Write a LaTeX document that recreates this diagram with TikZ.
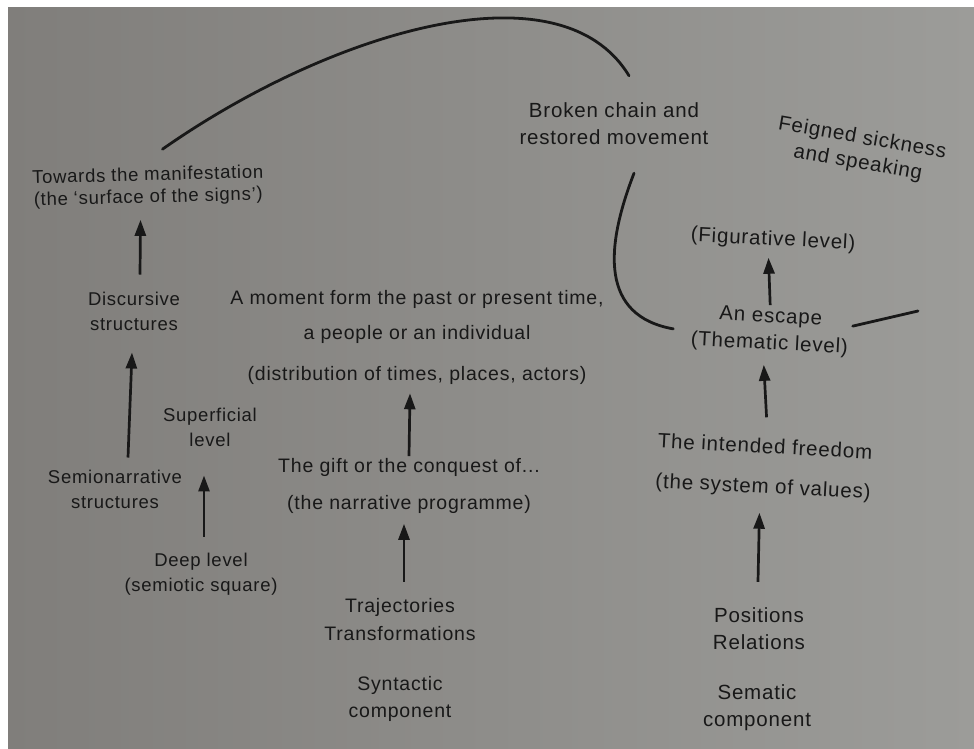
\documentclass[tikz,border=0pt]{standalone}
\usepackage{fontspec}
\setmainfont{Liberation Sans}[LetterSpace=4]
\usetikzlibrary{arrows.meta,calc}
\definecolor{bgmid}{RGB}{164,164,161}
\definecolor{bgleft}{RGB}{128,126,123}
\definecolor{bgright}{RGB}{156,156,153}
\definecolor{ink}{RGB}{24,24,24}
\tikzset{
  lbl/.style={inner sep=0pt, align=center, text=ink},
  lsmall/.style={lbl, font=\fontsize{18.5}{25}\selectfont},
  lmid/.style={lbl, font=\fontsize{19.5}{27}\selectfont},
  lbig/.style={lbl, font=\fontsize{20.5}{27}\selectfont},
  arr/.style={draw=ink, line width=2.7pt, -{Triangle[length=16pt,width=11pt]}},
  curve/.style={draw=ink, line width=2.8pt, line cap=round}
}
\begin{document}
\begin{tikzpicture}[x=1pt,y=-1pt]
\useasboundingbox (0,0) rectangle (974,749);
\fill[white] (0,0) rectangle (974,749);
\shade[left color=bgleft, middle color=bgmid, right color=bgright] (8,8) rectangle (974,749);

% left column
\node[lsmall, rotate=1.5] (towards) at (148,187) {Towards the manifestation\\[-3pt](the `surface of the signs')};
\node[lsmall] (disc) at (134,311) {Discursive\\structures};
\node[lsmall] (supf) at (210,427) {Superficial\\level};
\node[lsmall] (semi) at (115,489) {Semionarrative\\structures};
\node[lsmall] (deep) at (201,574) {Deep level\\(semiotic square)};

% middle column
\node[lmid] (moment) at (417,337) {A moment form the past or present time,\\[8pt]a people or an individual\\[14pt](distribution of times, places, actors)};
\node[lmid] (gift) at (409,486) {The gift or the conquest of...\\[10pt](the narrative programme)};
\node[lmid] (traj) at (400,620) {Trajectories\\[1pt]Transformations};
\node[lmid] (synt) at (400,699) {Syntactic\\component};
\node[lbig] (broken) at (614,124) {Broken chain and\\restored movement};

% right column
\node[lbig, rotate=-10] (feigned) at (860,151) {Feigned sickness\\[-2pt]and speaking};
\node[lbig, rotate=-3] (fig) at (773,240) {(Figurative level)};
\node[lbig, rotate=-3] (escape) at (770,331) {An escape\\(Thematic level)};
\node[lbig, rotate=-3] (freedom) at (764,468) {The intended freedom\\[13pt](the system of values)};
\node[lbig] (pos) at (759,629) {Positions\\Relations};
\node[lbig] (sem) at (757,708) {Sematic\\component};

% arrows
\draw[arr] ($(disc.north)+(6,-17)$) -- ($(towards.south)+(-8,13)$);
\draw[arr] ($(semi.north)+(13,-12)$) -- ($(disc.south)+(-2,22)$);
\draw[arr] ($(deep.north)+(3,-16)$) -- ($(supf.south)+(-6,29)$);
\draw[arr] ($(gift.north)+(0,-2)$) -- ($(moment.south)+(-7,9)$);
\draw[arr] ($(traj.north)+(4,-17)$) -- ($(gift.south)+(-5,10)$);
\draw[arr] ($(escape.north)+(-1,-3)$) -- ($(fig.south)+(-4,8)$);
\draw[arr] ($(freedom.north)+(1,-21)$) -- ($(escape.south)+(-5,11)$);
\draw[arr] ($(pos.north)+(-1,-26)$) -- ($(freedom.south)+(-3,15)$);

% curves
\draw[curve] ($(towards.north)+(15,-18)$) .. controls +(167,-117) and +(-69,-114) .. ($(broken.north)+(15,-27)$);
\draw[curve] ($(broken.south)+(20,28)$) .. controls +(-29,75) and +(-73,-13) .. ($(escape.west)+(-18,2)$);
\coordinate (tail) at (918,311);
\draw[curve] ($(escape.east)+(4,-9)$) -- (tail);
\end{tikzpicture}
\end{document}
